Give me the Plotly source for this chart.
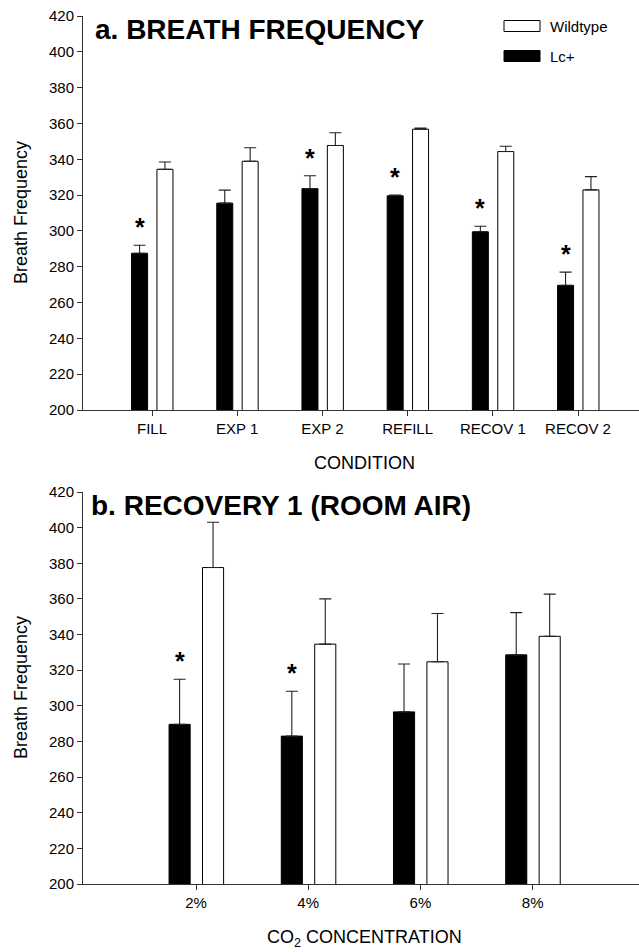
import plotly.graph_objects as go

# ---------------- data ----------------
conditions = ["FILL", "EXP 1", "EXP 2", "REFILL", "RECOV 1", "RECOV 2"]
lc_a = [287.5, 315.5, 323.6, 319.6, 299.5, 269.6]
lc_a_err = [4.5, 7.3, 7.2, 0.4, 3.1, 7.4]
wt_a = [334.4, 338.9, 347.7, 356.8, 344.3, 322.9]
wt_a_err = [4.1, 7.5, 7.1, 0.6, 3.0, 7.4]
sig_a = [True, False, True, True, True, True]

co2_levels = ["2%", "4%", "6%", "8%"]
lc_b = [289.6, 283.0, 296.6, 328.6]
lc_b_err = [25.3, 25.2, 26.9, 23.7]
wt_b = [377.6, 334.6, 324.7, 339.0]
wt_b_err = [25.4, 25.4, 27.1, 23.7]
sig_b = [True, True, False, False]

series_names = ["Wildtype", "Lc+"]
panel_titles = ["a. BREATH FREQUENCY", "b. RECOVERY 1 (ROOM AIR)"]
y_title = "Breath Frequency"
x_titles = ["CONDITION", "CO<sub>2</sub> CONCENTRATION"]
y_ticks = list(range(200, 421, 20))

# ---------------- style ----------------
W, H = 639, 952
ML, MR, MT, MB = 83, 0, 16, 68
PW, PH = W - ML - MR, H - MT - MB
FONT = "Liberation Sans, Arial, sans-serif"
BW = 0.188
OFF_LC = -0.24
OFF_WT = 0.058


def px(x):
    return (x - ML) / PW


def py(y):
    return (H - MB - y) / PH


fig = go.Figure()


def add_panel(cats, lc, lc_err, wt, wt_err, xa, ya):
    pos = list(range(1, len(cats) + 1))
    fig.add_trace(go.Bar(
        x=pos, y=lc, base=0, width=BW, offset=OFF_LC, name=series_names[1],
        marker=dict(color="black", line=dict(color="black", width=1)),
        error_y=dict(type="data", array=lc_err, arrayminus=[0] * len(lc),
                     symmetric=False, color="#222", thickness=1.1, width=6),
        xaxis=xa, yaxis=ya, showlegend=False))
    fig.add_trace(go.Bar(
        x=pos, y=wt, base=0, width=BW, offset=OFF_WT, name=series_names[0],
        marker=dict(color="white", line=dict(color="black", width=1)),
        error_y=dict(type="data", array=wt_err, arrayminus=[0] * len(wt),
                     symmetric=False, color="#222", thickness=1.1, width=6),
        xaxis=xa, yaxis=ya, showlegend=False))


add_panel(conditions, lc_a, lc_a_err, wt_a, wt_a_err, "x", "y")
add_panel(co2_levels, lc_b, lc_b_err, wt_b, wt_b_err, "x2", "y2")

annotations = []


def add_stars(sig, lc, lc_err, xref, yref):
    for i, s in enumerate(sig):
        if s:
            annotations.append(dict(
                x=i + 1 + OFF_LC + BW / 2, y=lc[i] + lc_err[i], xref=xref, yref=yref,
                text="<b>*</b>", showarrow=False, yanchor="bottom", yshift=2,
                font=dict(family=FONT, size=25, color="black")))


add_stars(sig_a, lc_a, lc_a_err, "x", "y")
add_stars(sig_b, lc_b, lc_b_err, "x2", "y2")

# panel titles
annotations.append(dict(x=px(93), y=py(30), xref="paper", yref="paper", xanchor="left",
                        yanchor="middle", showarrow=False, text="<b>%s</b>" % panel_titles[0],
                        font=dict(family=FONT, size=28, color="black")))
annotations.append(dict(x=px(89), y=py(505), xref="paper", yref="paper", xanchor="left",
                        yanchor="middle", showarrow=False, text="<b>%s</b>" % panel_titles[1],
                        font=dict(family=FONT, size=28, color="black")))
# axis titles
for yc in (213, 688):
    annotations.append(dict(x=px(21), y=py(yc), xref="paper", yref="paper", textangle=-90,
                            xanchor="center", yanchor="middle", showarrow=False, text=y_title,
                            font=dict(family=FONT, size=18, color="black")))
annotations.append(dict(x=px(364), y=py(463), xref="paper", yref="paper", xanchor="center",
                        yanchor="middle", showarrow=False, text=x_titles[0],
                        font=dict(family=FONT, size=18, color="black")))
annotations.append(dict(x=px(364), y=py(938), xref="paper", yref="paper", xanchor="center",
                        yanchor="middle", showarrow=False, text=x_titles[1],
                        font=dict(family=FONT, size=18, color="black")))

# legend (drawn)
shapes = []
legend_rows = [(series_names[0], "white", 26), (series_names[1], "black", 56)]
for name, fill, yc in legend_rows:
    shapes.append(dict(type="rect", xref="paper", yref="paper",
                       x0=px(504), x1=px(540), y0=py(yc - 5.5), y1=py(yc + 5.5),
                       fillcolor=fill, line=dict(color="black", width=1)))
    annotations.append(dict(x=px(548), y=py(yc), xref="paper", yref="paper", xanchor="left",
                            yanchor="middle", showarrow=False, text=name,
                            font=dict(family=FONT, size=15, color="black")))

axis_common = dict(showgrid=False, zeroline=False, showline=True, linecolor="#333",
                   linewidth=1, ticks="outside", ticklen=5, tickwidth=1, tickcolor="#333",
                   tickfont=dict(family=FONT, size=15, color="black"))

fig.update_layout(
    width=W, height=H,
    margin=dict(l=ML, r=MR, t=MT, b=MB),
    paper_bgcolor="white", plot_bgcolor="white",
    barmode="overlay", showlegend=False,
    xaxis=dict(domain=[0, 1], anchor="y", range=[0.19, 6.716],
               tickvals=list(range(1, len(conditions) + 1)), ticktext=conditions, **axis_common),
    yaxis=dict(domain=[py(410), 1], anchor="x", range=[200, 420], tickvals=y_ticks,
               **axis_common),
    xaxis2=dict(domain=[0, 1], anchor="y2", range=[-0.007, 4.948],
                tickvals=list(range(1, len(co2_levels) + 1)), ticktext=co2_levels, **axis_common),
    yaxis2=dict(domain=[0, py(492)], anchor="x2", range=[200, 420], tickvals=y_ticks,
                **axis_common),
    annotations=annotations, shapes=shapes,
)

fig.write_html("out.html")
